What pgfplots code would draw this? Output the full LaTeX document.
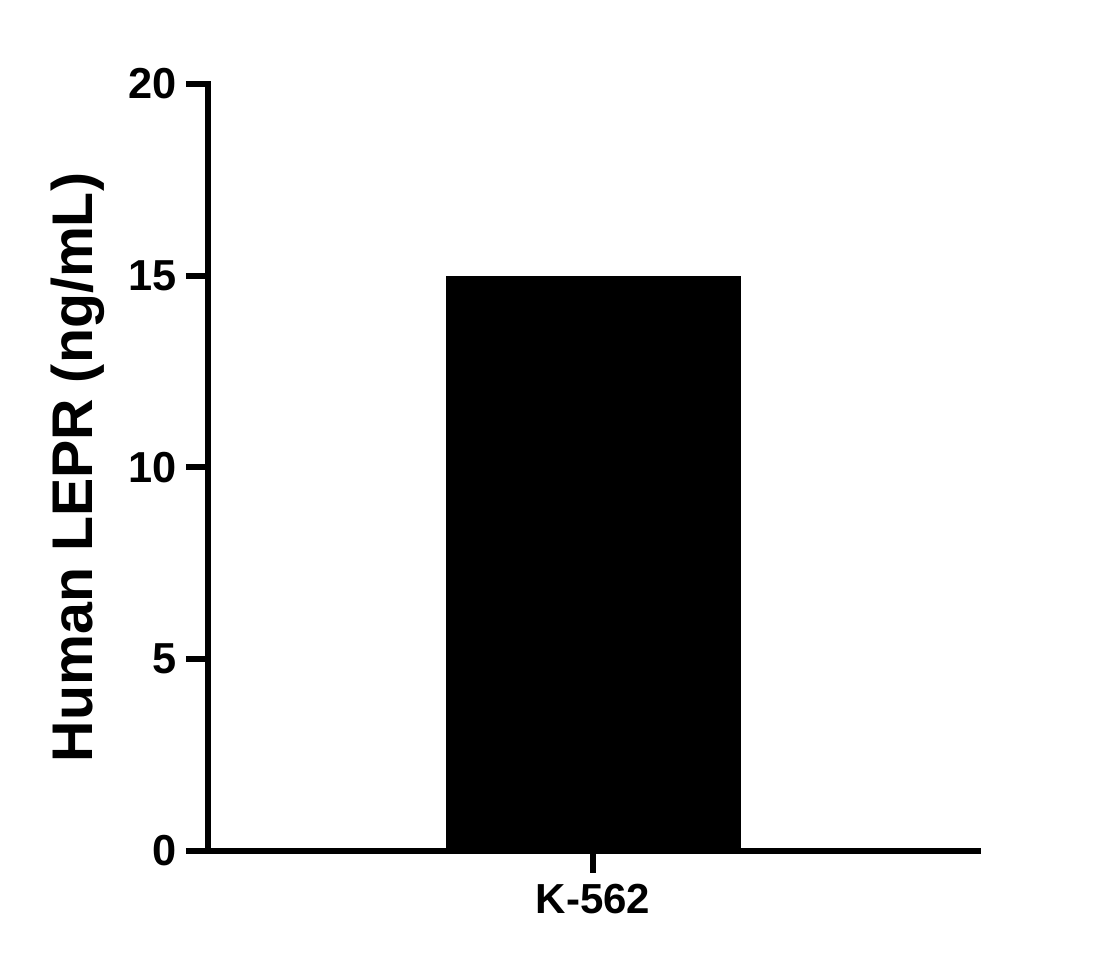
\documentclass[border=0pt]{standalone}
\usepackage{fontspec}
\setmainfont{Liberation Sans}
\usepackage{pgfplots}
\pgfplotsset{compat=1.18}
\begin{document}
\begin{tikzpicture}
\begin{axis}[
  at={(0,0)}, anchor=south west,
  scale only axis,
  width=577.5pt, height=575.25pt,
  xmin=-1, xmax=1,
  ymin=0, ymax=20,
  axis x line=bottom, axis y line=left,
  axis line style={-, line width=4.5pt, line cap=rect},
  every tick/.style={black, line width=4.5pt},
  tick align=outside,
  major tick length=16.5pt,
  ytick={0,5,10,15,20},
  xtick={0},
  xticklabels={K-562},
  /pgf/number format/assume math mode=true,
  tick label style={font=\bfseries\fontsize{31.5}{36}\selectfont},
  yticklabel style={inner sep=6.5pt, font=\bfseries\fontsize{32.5}{36}\selectfont},
  xticklabel style={inner sep=4pt, yshift=-4pt},
  ylabel={Human LEPR (ng/mL)},
  ylabel style={at={(axis description cs:-0.1506,0.5)}, anchor=base, rotate=0,
    font=\bfseries\fontsize{43}{48}\selectfont, inner sep=0pt},
  clip=false,
]
\addplot[ybar, bar width=221.25pt, fill=black, draw=none] coordinates {(0,15.0)};
\end{axis}
\useasboundingbox (-156pt,-87pt) rectangle (679.5pt,638.25pt);
\end{tikzpicture}
\end{document}
